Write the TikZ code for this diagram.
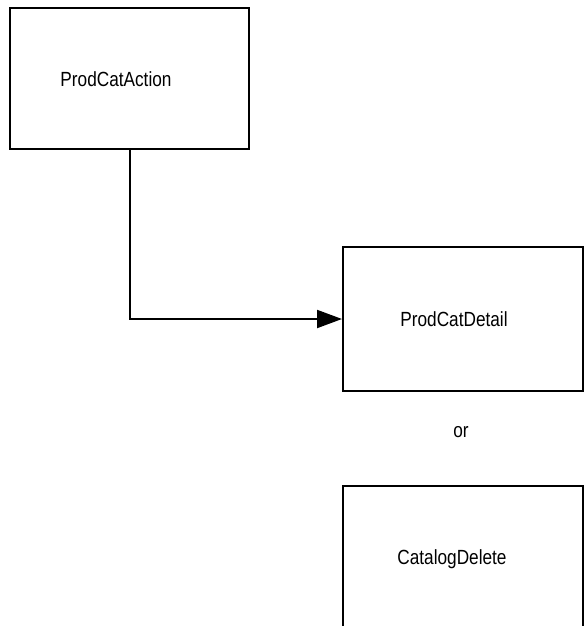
\documentclass[tikz,border=0pt]{standalone}
\usepackage{fontspec}
\setmainfont{Liberation Sans}
\usetikzlibrary{arrows.meta}
\begin{document}
\begin{tikzpicture}[x=1pt,y=-1pt,
  box/.style={draw=black,line width=2pt,fill=white,minimum width=#1,inner sep=0pt},
  lbl/.style={anchor=base,inner sep=0pt,font=\fontsize{20.5}{24}\selectfont},
  conn/.style={line width=2pt,-{Triangle[length=25pt,width=18pt]}}]
\useasboundingbox (0,0) rectangle (584,626);
\clip (0,0) rectangle (584,626);
\node[box=239pt,minimum height=141pt] (b1) at (129.5,78.5) {};
\node[box=240pt,minimum height=144pt] (b2) at (463,319) {};
\node[box=240pt,minimum height=200pt] (b3) at (463,586) {};
\node[lbl] (t1) at (116,86) {\scalebox{0.84}[1]{ProdCatAction}};
\node[lbl] (t2) at (454,326) {\scalebox{0.84}[1]{ProdCatDetail}};
\node[lbl] (t3) at (452,564) {\scalebox{0.84}[1]{CatalogDelete}};
\node[lbl] (or) at (461,437) {\scalebox{0.84}[1]{or}};
\draw[conn] (b1.south) |- (b2.west);
\end{tikzpicture}
\end{document}
